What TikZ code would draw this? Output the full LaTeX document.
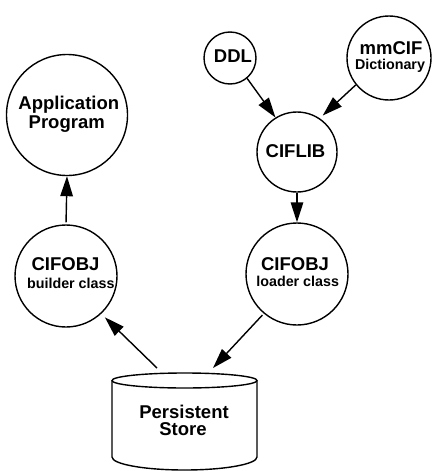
\documentclass[tikz,border=0pt]{standalone}
\usepackage{fontspec}
\setmainfont{Liberation Sans}
\usetikzlibrary{arrows.meta}
\begin{document}
\begin{tikzpicture}[x=1pt,y=-1pt,
  lw/.style={line width=1.4pt},
  circ/.style={circle,draw,lw,inner sep=0pt},
  big/.style={font=\fontsize{18.5}{19}\selectfont\bfseries,anchor=base,inner sep=0pt},
  small/.style={font=\fontsize{14.3}{15}\selectfont\bfseries,anchor=base,inner sep=0pt},
  arr/.style={lw,-{Triangle[length=20pt,width=12.5pt]}}]
\useasboundingbox (0,0) rectangle (433,471);
% circles
\node[circ,minimum size=52pt] (ddl) at (230,58) {};
\node[circ,minimum size=84pt] (mmcif) at (389,58) {};
\node[circ,minimum size=121pt] (app) at (67,115) {};
\node[circ,minimum size=80pt] (ciflib) at (297,152) {};
\node[circ,minimum size=102pt] (builder) at (66,276) {};
\node[circ,minimum size=102pt] (loader) at (297,274) {};
% cylinder
\draw[lw] (184.5,380.5) ellipse[x radius=72.5,y radius=7.5];
\draw[lw] (112,380.5) -- (112,457) arc[start angle=180,end angle=0,x radius=72.5,y radius=13] -- (257,380.5);
\coordinate (s1) at (157,368);
\coordinate (s2) at (213,368);
% texts
\node[big] (tddl) at (233,62) {DDL};
\node[big] (tmm) at (391,54) {mmCIF};
\node[small] (tdict) at (390,69) {Dictionary};
\node[big] (tapp1) at (68.8,109) {Application};
\node[big] (tapp2) at (66.7,128) {Program};
\node[big] (tlib) at (295.5,157) {CIFLIB};
\node[big] (tb1) at (65.5,270) {CIFOBJ};
\node[small] (tb2) at (70.8,288) {builder class};
\node[big] (tl1) at (295,270) {CIFOBJ};
\node[small] (tl2) at (297.7,286) {loader class};
\node[big] (ts1) at (184,418) {Persistent};
\node[big] (ts2) at (183,435) {Store};
% arrows
\draw[arr] (ddl.310) -- (ciflib.122);
\draw[arr,shorten >=4pt] (mmcif.219) -- (ciflib.56);
\draw[arr] (ciflib.south) -- (loader.north);
\draw[arr,shorten <=2pt] (builder.north) -- (app.south);
\draw[arr,shorten >=5pt] (s1) -- (builder.313);
\draw[arr,shorten <=2pt] (loader.230) -- (s2);
\end{tikzpicture}
\end{document}
